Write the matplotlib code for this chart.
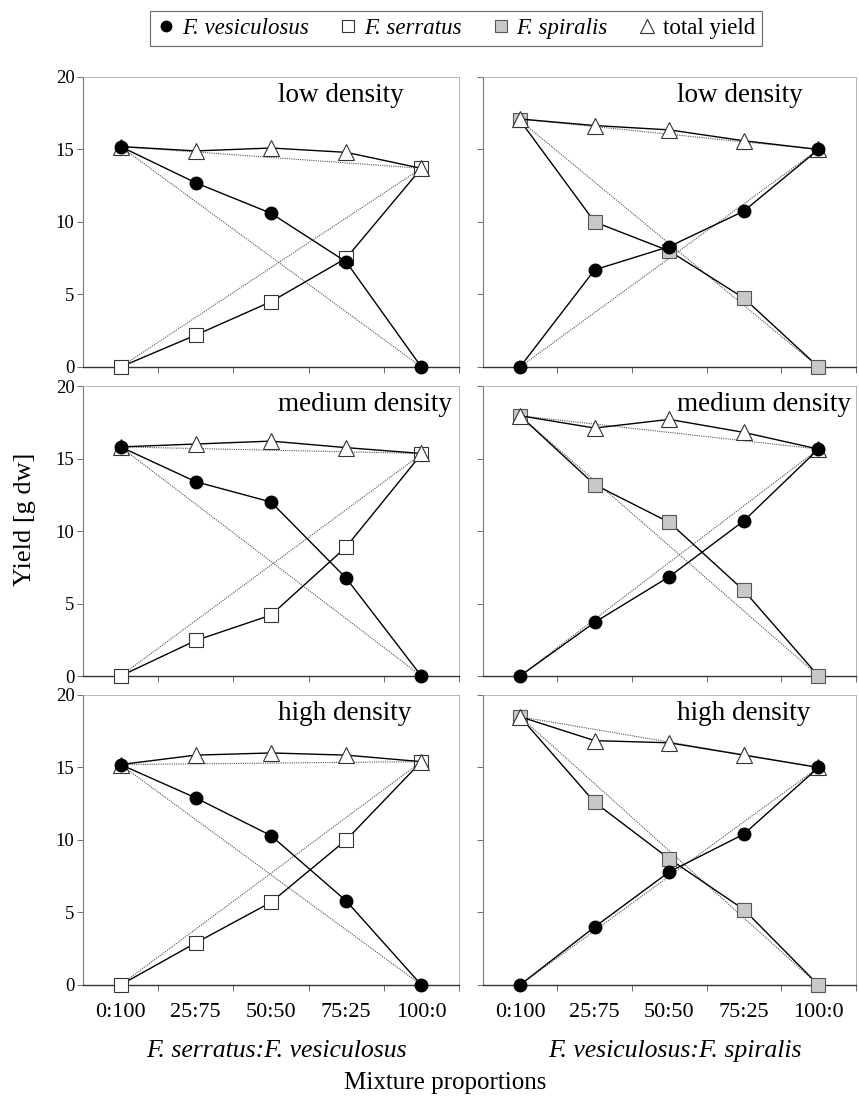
import matplotlib
matplotlib.use('Agg')
import matplotlib.pyplot as plt
from matplotlib.lines import Line2D

plt.rcParams['font.family'] = ['Liberation Serif', 'DejaVu Serif']

# mixture proportions (category axis)
proportions = ['0:100', '25:75', '50:50', '75:25', '100:0']
densities = ['low density', 'medium density', 'high density']

# left column: F. serratus : F. vesiculosus
left_ves = [[15.2, 12.7, 10.6, 7.25, 0.0],
            [15.8, 13.4, 12.0, 6.75, 0.0],
            [15.2, 12.9, 10.3, 5.8, 0.0]]
left_ser = [[0.0, 2.2, 4.5, 7.5, 13.7],
            [0.0, 2.45, 4.2, 8.9, 15.3],
            [0.0, 2.9, 5.7, 10.0, 15.4]]
left_tot = [[15.2, 14.9, 15.1, 14.8, 13.7],
            [15.8, 16.0, 16.2, 15.75, 15.35],
            [15.2, 15.85, 16.0, 15.85, 15.4]]

# right column: F. vesiculosus : F. spiralis
right_ves = [[0.0, 6.7, 8.3, 10.75, 15.0],
             [0.0, 3.7, 6.85, 10.7, 15.65],
             [0.0, 4.0, 7.8, 10.4, 15.0]]
right_spi = [[17.0, 10.0, 8.0, 4.75, 0.0],
             [17.95, 13.2, 10.6, 5.9, 0.0],
             [18.5, 12.6, 8.7, 5.2, 0.0]]
right_tot = [[17.1, 16.65, 16.35, 15.6, 15.0],
             [17.95, 17.1, 17.7, 16.8, 15.65],
             [18.5, 16.85, 16.7, 15.85, 15.0]]

ves_style = dict(marker='o', markersize=9, markerfacecolor='black', markeredgecolor='black')
ser_style = dict(marker='s', markersize=9.5, markerfacecolor='white', markeredgecolor='#333333', markeredgewidth=0.8)
spi_style = dict(marker='s', markersize=9.5, markerfacecolor='#c8c8c8', markeredgecolor='#555555', markeredgewidth=0.8)
tot_style = dict(marker='^', markersize=11.5, markerfacecolor='white', markeredgecolor='#333333', markeredgewidth=0.8)

x = list(range(len(proportions)))


def draw_series(ax, values, style):
    # expected yield: straight line between the two monocultures
    ax.plot([x[0], x[-1]], [values[0], values[-1]], linestyle=(0, (1, 1)),
            color='#555555', linewidth=0.8, clip_on=False, zorder=2)
    ax.plot(x, values, color='black', linewidth=1.0, clip_on=False, zorder=3, **style)


fig = plt.figure(figsize=(8.59, 11.01), dpi=100)

col_left = [0.0966, 0.562]
col_width = [0.4377, 0.4342]
row_bottom = [0.6667, 0.386, 0.1054]
row_height = 0.2634

for r in range(3):
    for c in range(2):
        ax = fig.add_axes([col_left[c], row_bottom[r], col_width[c], row_height])
        if c == 0:
            draw_series(ax, left_ser[r], ser_style)
            draw_series(ax, left_tot[r], tot_style)
            draw_series(ax, left_ves[r], ves_style)
        else:
            draw_series(ax, right_spi[r], spi_style)
            draw_series(ax, right_tot[r], tot_style)
            draw_series(ax, right_ves[r], ves_style)

        ax.set_xlim(-0.5, 4.5)
        ax.set_ylim(0, 20)
        ax.set_yticks([0, 5, 10, 15, 20])
        if c == 1:
            ax.set_yticklabels([])
        ax.tick_params(axis='y', direction='out', length=4, width=0.6,
                       colors='#555555', labelcolor='black', labelsize=13.5, pad=2)

        # tick marks between categories, labels at category centres
        ax.set_xticks([0.5, 1.5, 2.5, 3.5, 4.5])
        ax.set_xticklabels([])
        ax.tick_params(axis='x', which='major', direction='out', length=4,
                       width=0.6, colors='#555555')
        ax.set_xticks(x, minor=True)
        if r == 2:
            ax.set_xticklabels(proportions, minor=True)
        ax.tick_params(axis='x', which='minor', length=0, labelsize=16, pad=13)

        for side in ['top', 'right']:
            ax.spines[side].set_color('#aaaaaa')
            ax.spines[side].set_linewidth(0.6)
        ax.spines['left'].set_color('#777777')
        ax.spines['left'].set_linewidth(0.8)
        ax.spines['bottom'].set_color('#333333')
        ax.spines['bottom'].set_linewidth(1.0)

        ax.text(0.52, 0.935, densities[r], transform=ax.transAxes,
                ha='left', va='center', fontsize=19.5)

fig.text(0.029, 0.528, 'Yield [g dw]', rotation=90, ha='center', va='center', fontsize=19)
fig.text(col_left[0] + col_width[0] / 2 + 0.006, 0.045, 'F. serratus:F. vesiculosus',
         style='italic', ha='center', va='center', fontsize=18.5)
fig.text(col_left[1] + col_width[1] / 2 + 0.006, 0.045, 'F. vesiculosus:F. spiralis',
         style='italic', ha='center', va='center', fontsize=18.5)
fig.text(0.518, 0.016, 'Mixture proportions', ha='center', va='center', fontsize=18)

handles = [Line2D([], [], linestyle='none', **dict(ves_style, markersize=7.5)),
           Line2D([], [], linestyle='none', **dict(ser_style, markersize=8.5)),
           Line2D([], [], linestyle='none', **dict(spi_style, markersize=8.5)),
           Line2D([], [], linestyle='none', **dict(tot_style, markersize=10))]
labels = ['F. vesiculosus', 'F. serratus', 'F. spiralis', 'total yield']
leg = fig.legend(handles, labels, loc='center', bbox_to_anchor=(0.531, 0.974), ncol=4,
                 fontsize=16.5, frameon=True, fancybox=False, handlelength=0.8,
                 handletextpad=0.3, columnspacing=1.3, borderpad=0.3)
leg.get_frame().set_edgecolor('#444444')
leg.get_frame().set_linewidth(0.8)
for t in leg.get_texts()[:3]:
    t.set_style('italic')

fig.savefig('out.png', dpi=100)
